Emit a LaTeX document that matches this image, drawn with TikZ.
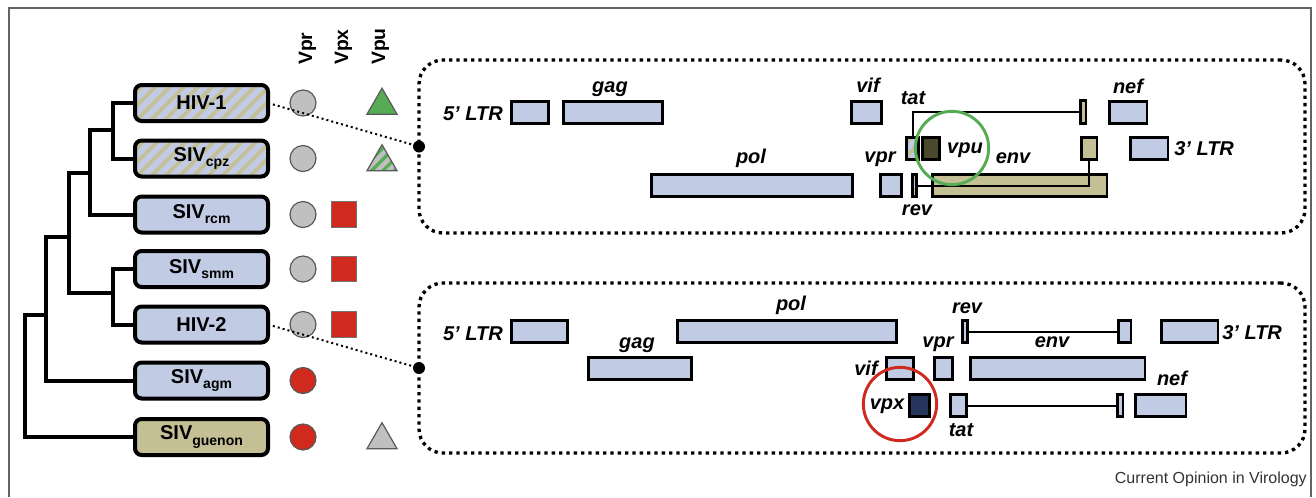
\documentclass[tikz,border=0pt]{standalone}
\usepackage{fontspec}
\setmainfont{Liberation Sans}
\usetikzlibrary{shapes.geometric,patterns.meta}

\definecolor{cblue}{RGB}{193,203,228}
\definecolor{ckhaki}{RGB}{196,191,148}
\definecolor{cgray}{RGB}{192,192,192}
\definecolor{cred}{RGB}{208,41,30}
\definecolor{cgreen}{RGB}{86,172,84}
\definecolor{colive}{RGB}{74,72,45}
\definecolor{cnavy}{RGB}{38,54,92}
\definecolor{cframe}{RGB}{100,100,100}

% gene box from outer corner (x1,y1) to (x2,y2), in pixel units
\newcommand\gene[6][]{%
  \node[gene,#1,minimum width={(#5-#3-2.5)*0.75pt},minimum height={(#6-#4-2.5)*0.75pt}]
    (#2) at ({(#3+#5)/2},{(#4+#6)/2}) {};}
% lowered subscript for virus names
\newcommand\sbs[1]{\raisebox{-3.8pt}{\fontsize{10.5}{10.5}\selectfont #1}}

\begin{document}
\begin{tikzpicture}[x=0.75pt,y=-0.75pt,
  virus/.style={draw,line width=3pt,rounded corners=5pt,fill=cblue,
    minimum width=99.75pt,minimum height=27pt,inner sep=0pt,outer sep=0pt,
    font=\bfseries\fontsize{15}{15}\selectfont},
  striped/.style={preaction={fill=cblue},
    pattern={Lines[angle=45,distance=7.5pt,line width=2.7pt]},pattern color=ckhaki},
  tree/.style={line width=3pt,line join=miter,line cap=rect},
  gene/.style={draw,line width=1.9pt,fill=cblue,inner sep=0pt,outer sep=0pt},
  glab/.style={inner sep=0pt,font=\bfseries\itshape\fontsize{15}{15}\selectfont},
  hdr/.style={inner sep=0pt,font=\bfseries\fontsize{14.5}{14.5}\selectfont},
  container/.style={draw,line width=2.5pt,dash pattern=on 2.5pt off 3pt,
    rounded corners=18pt,minimum width=664.5pt,inner sep=0pt,outer sep=0pt},
  link/.style={line width=1.5pt,dash pattern=on 1.5pt off 2.3pt},
  vprmark/.style={circle,draw=black!65,line width=0.9pt,fill=cgray,
    minimum size=19.5pt,inner sep=0pt},
  vpxmark/.style={rectangle,draw=black!55,line width=0.9pt,fill=cred,
    minimum size=19pt,inner sep=0pt},
  vpumark/.style={regular polygon,regular polygon sides=3,draw=black!65,
    line width=0.9pt,fill=cgreen,minimum size=26pt,inner sep=0pt},
  ring/.style={circle,line width=2.2pt,minimum size=55pt,inner sep=0pt}]

\useasboundingbox (0,0) rectangle (1316,497);

% outer frame
\draw[cframe,line width=1.1pt] (9,497) -- (9,8) -- (1311,8) -- (1311,497);

% ---------- phylogeny ----------
\node[virus,striped] (hiv1) at (201.5,103) {HIV-1};
\node[virus,striped] (cpz)  at (201.5,158.5) {SIV\sbs{cpz}};
\node[virus] (rcm)  at (201.5,214.5) {SIV\sbs{rcm}};
\node[virus] (smm)  at (201.5,269) {SIV\sbs{smm}};
\node[virus] (hiv2) at (201.5,324.5) {HIV-2};
\node[virus] (agm)  at (201.5,380.5) {SIV\sbs{agm}};
\node[virus,fill=ckhaki] (guen) at (201.5,437) {SIV\sbs{guenon}};

\coordinate (n1) at (113,130);
\coordinate (n2) at (90,173);
\coordinate (n4) at (113,293);
\coordinate (n3) at (69,237);
\coordinate (n5) at (46,315);
\coordinate (n6) at (25,437);

\draw[tree] (hiv1.west) -| (n1) |- (cpz.west);
\draw[tree] (n1) -| (n2) |- (rcm.west);
\draw[tree] (smm.west) -| (n4) |- (hiv2.west);
\draw[tree] (n2) -| (n3) |- (n4);
\draw[tree] (n3) -| (n5) |- (agm.west);
\draw[tree] (n5) -| (n6) -- (guen.west);

% ---------- accessory gene markers ----------
\node[hdr,rotate=90,anchor=base west] (hvpr) at (312,65) {Vpr};
\node[hdr,rotate=90,anchor=base west] (hvpx) at (348,65) {Vpx};
\node[hdr,rotate=90,anchor=base west] (hvpu) at (385,65) {Vpu};

\node[vprmark] (r1) at (303,103) {};
\node[vprmark] (r2) at (303,158.5) {};
\node[vprmark] (r3) at (303,214.5) {};
\node[vprmark] (r4) at (303,269) {};
\node[vprmark] (r5) at (303,324.5) {};
\node[vprmark,fill=cred] (r6) at (303,380.5) {};
\node[vprmark,fill=cred] (r7) at (303,437) {};

\node[vpxmark] (x3) at (344,214.5) {};
\node[vpxmark] (x4) at (344,269) {};
\node[vpxmark] (x5) at (344,324.5) {};

\node[vpumark] (u1) at (382,105.5) {};
\node[vpumark,fill=cgray,preaction={fill=cgray},
  pattern={Lines[angle=45,distance=6pt,line width=2.4pt]},pattern color=cgreen] (u2) at (382,162) {};
\node[vpumark,fill=cgray] (u7) at (382,440) {};

% ---------- HIV-1 genome ----------
\node[container,minimum height=129.75pt] (top) at (862,146.5) {};

\gene{ltr5a}{510}{100}{550}{125}
\gene{gaga}{562}{100}{664}{125}
\gene{pola}{650}{173}{854}{198}
\gene{vifa}{850}{100}{883}{125}
\gene{vpra}{879}{173}{903}{198}
\gene[striped]{tat1a}{905}{136}{920}{161}
\gene[fill=colive]{vpua}{921}{136}{941}{161}
\gene[fill=ckhaki]{enva}{931}{173}{1108}{198}
\gene[striped]{rev1a}{911}{173}{918}{198}
\gene[fill=ckhaki]{tat2a}{1079}{99}{1087}{125}
\gene[fill=ckhaki]{rev2a}{1080}{136}{1098}{161}
\gene{nefa}{1108}{100}{1148}{125}
\gene{ltr3a}{1129}{136}{1169}{161}

\draw[line width=1.5pt] (tat1a.north) |- (tat2a.west);
\draw[line width=1.5pt] (rev1a.east) -| (rev2a.south);

\node[glab,anchor=base east] (l5a) at (503,120) {5’ LTR};
\node[glab,anchor=base] (lgaga) at (610,92) {gag};
\node[glab,anchor=base] (lpola) at (751,163) {pol};
\node[glab,anchor=base] (lvifa) at (868,92) {vif};
\node[glab,anchor=base] (ltata) at (913,104) {tat};
\node[glab,anchor=base] (lvpra) at (880,162) {vpr};
\node[glab,anchor=base] (lreva) at (917,215) {rev};
\node[glab,anchor=base] (lvpua) at (965,153) {vpu};
\node[glab,anchor=base] (lenva) at (1013,163) {env};
\node[glab,anchor=base] (lnefa) at (1128,93) {nef};
\node[glab,anchor=base west] (l3a) at (1174,155) {3’ LTR};

\node[ring,draw=cgreen] (hl1) at (952,148) {};

% ---------- HIV-2 genome ----------
\node[container,minimum height=127.5pt] (bot) at (862,368) {};

\gene{ltr5b}{510}{319}{569}{344}
\gene{gagb}{587}{356}{693}{381}
\gene{polb}{676}{319}{898}{344}
\gene{vifb}{885}{356}{915}{381}
\gene{vprb}{933}{356}{954}{381}
\gene[fill=cnavy]{vpxb}{908}{393}{931}{418}
\gene{tat1b}{949}{393}{968}{418}
\gene{tat2b}{1116}{393}{1124}{418}
\gene{rev1b}{961}{319}{969}{344}
\gene{rev2b}{1117}{319}{1132}{344}
\gene{envb}{969}{356}{1146}{381}
\gene{ltr3b}{1160}{319}{1219}{344}
\gene{nefb}{1134}{393}{1187}{418}

\draw[line width=1.5pt] (rev1b.east) -- (rev2b.west);
\draw[line width=1.5pt] (tat1b.east) -- (tat2b.west);

\node[glab,anchor=base east] (l5b) at (503,340) {5’ LTR};
\node[glab,anchor=base] (lgagb) at (637,348) {gag};
\node[glab,anchor=base] (lpolb) at (791,310) {pol};
\node[glab,anchor=base] (lrevb) at (967,313) {rev};
\node[glab,anchor=base] (lvprb) at (938,347) {vpr};
\node[glab,anchor=base] (lenvb) at (1052,347) {env};
\node[glab,anchor=base west] (l3b) at (1222,339) {3’ LTR};
\node[glab,anchor=base] (lvifb) at (866,375) {vif};
\node[glab,anchor=base] (lvpxb) at (887,409) {vpx};
\node[glab,anchor=base] (ltatb) at (961,436) {tat};
\node[glab,anchor=base] (lnefb) at (1172,385) {nef};

\node[ring,draw=cred] (hl2) at (900,404) {};

% ---------- links from the tree to the genome maps ----------
\draw[link] (hiv1.east) -- (top.west);
\draw[link] (hiv2.east) -- (bot.west);
\fill (top.west) circle (4.5pt);
\fill (bot.west) circle (4.5pt);

% source line
\node[anchor=base east,inner sep=0pt,text=black!80,font=\fontsize{12}{12}\selectfont] (src)
  at (1307,483) {Current Opinion in Virology};
\end{tikzpicture}
\end{document}
